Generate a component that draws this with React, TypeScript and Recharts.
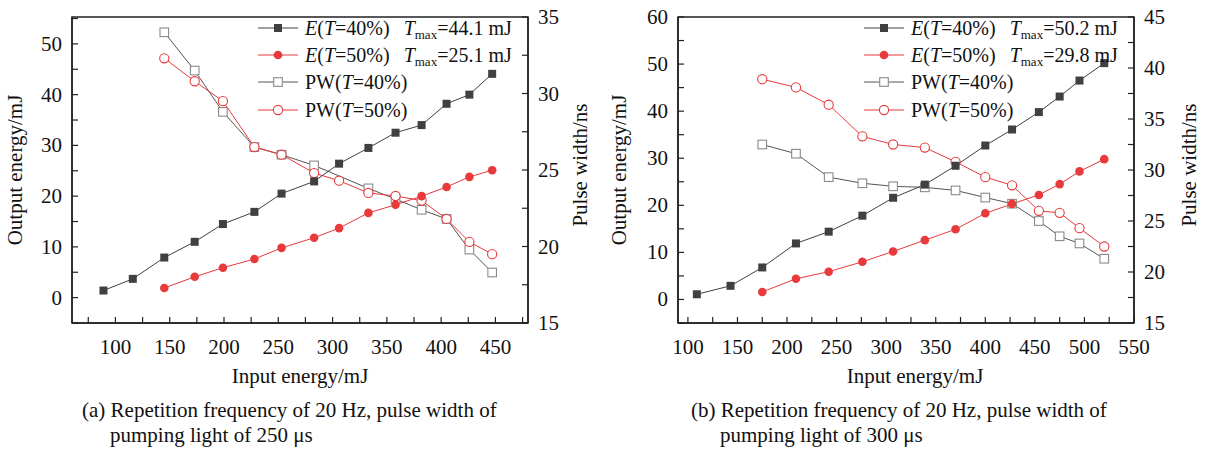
import React from 'react';
import { ComposedChart, Line, XAxis, YAxis, ReferenceArea, Legend, Label } from 'recharts';

const FONT = '"Liberation Serif", "Times New Roman", serif';
const DARK = '#404040';
const RED = '#e8393b';
const GREY = '#8a8a8a';

// (a) 20 Hz, 250 µs pump
const inputA = [89, 116, 145, 173, 199, 228, 253, 283, 306, 333, 358, 382, 405, 426, 447];
const energy40A = [1.4, 3.7, 7.9, 11.0, 14.5, 16.9, 20.5, 22.9, 26.4, 29.5, 32.5, 34.0, 38.2, 40.0, 44.1];
const energy50A = [null, null, 1.9, 4.1, 5.9, 7.6, 9.8, 11.8, 13.7, 16.7, 18.3, 20.0, 21.8, 23.8, 25.1];
const pulse40A = [null, null, 34.0, 31.5, 28.8, 26.5, 26.0, 25.3, null, 23.8, 23.1, 22.4, 21.8, 19.8, 18.3];
const pulse50A = [null, null, 32.3, 30.8, 29.5, 26.5, 26.0, 24.8, 24.3, 23.5, 23.3, 23.0, 21.8, 20.3, 19.5];

// (b) 20 Hz, 300 µs pump
const inputB = [109, 143, 175, 209, 242, 276, 307, 339, 370, 400, 427, 454, 475, 495, 520];
const energy40B = [1.1, 2.9, 6.8, 11.9, 14.4, 17.8, 21.6, 24.4, 28.4, 32.7, 36.1, 39.8, 43.1, 46.5, 50.2];
const energy50B = [null, null, 1.6, 4.4, 5.9, 8.0, 10.2, 12.6, 14.9, 18.3, 20.3, 22.2, 24.5, 27.2, 29.8];
const pulse40B = [null, null, 32.5, 31.6, 29.3, 28.7, 28.4, 28.3, 28.0, 27.3, 26.7, 25.0, 23.5, 22.8, 21.3];
const pulse50B = [null, null, 38.9, 38.1, 36.4, 33.3, 32.5, 32.2, 30.8, 29.3, 28.5, 26.0, 25.8, 24.3, 22.5];

// axis ticks (minor + major) and labelled values
const xTicksA = [75, 100, 125, 150, 175, 200, 225, 250, 275, 300, 325, 350, 375, 400, 425, 450, 475];
const xLabelsA = [100, 150, 200, 250, 300, 350, 400, 450];
const yLeftTicksA = [-5, 0, 5, 10, 15, 20, 25, 30, 35, 40, 45, 50, 55];
const yLeftLabelsA = [0, 10, 20, 30, 40, 50];
const yRightTicksA = [15, 17.5, 20, 22.5, 25, 27.5, 30, 32.5, 35];
const yRightLabelsA = [15, 20, 25, 30, 35];

const xTicksB = [100, 125, 150, 175, 200, 225, 250, 275, 300, 325, 350, 375, 400, 425, 450, 475, 500, 525, 550];
const xLabelsB = [100, 150, 200, 250, 300, 350, 400, 450, 500, 550];
const yLeftTicksB = [-5, 0, 5, 10, 15, 20, 25, 30, 35, 40, 45, 50, 55, 60];
const yLeftLabelsB = [0, 10, 20, 30, 40, 50, 60];
const yRightTicksB = [15, 17.5, 20, 22.5, 25, 27.5, 30, 32.5, 35, 37.5, 40, 42.5, 45];
const yRightLabelsB = [15, 20, 25, 30, 35, 40, 45];

type Kind = 'e40' | 'e50' | 'pw40' | 'pw50';

const Marker = ({ kind, cx, cy }: { kind: Kind; cx: number; cy: number }) => {
  if (kind === 'e40') return <rect x={cx - 4} y={cy - 4} width={8} height={8} fill={DARK} />;
  if (kind === 'e50') return <circle cx={cx} cy={cy} r={4.3} fill={RED} />;
  if (kind === 'pw40')
    return <rect x={cx - 4.3} y={cy - 4.3} width={8.6} height={8.6} fill="#fff" stroke={GREY} strokeWidth={1.1} />;
  return <circle cx={cx} cy={cy} r={4.6} fill="#fff" stroke={RED} strokeWidth={1.1} />;
};

const dotFor = (kind: Kind) => (props: any) => {
  const { cx, cy, index, value } = props;
  if (cx == null || cy == null || value == null) return <g key={index} />;
  return (
    <g key={index}>
      <Marker kind={kind} cx={cx} cy={cy} />
    </g>
  );
};

const makeTick = (labels: number[], anchor: 'start' | 'middle' | 'end', dy: number) => (props: any) => {
  const { x, y, payload } = props;
  if (!labels.includes(payload.value)) return <g />;
  return (
    <text x={x} y={y} dy={dy} textAnchor={anchor} fontSize={21} fontFamily={FONT} fill="#111">
      {payload.value}
    </text>
  );
};

const Title = ({ px, py, rotate, text }: any) => (
  <text
    x={px}
    y={py}
    textAnchor="middle"
    fontSize={21}
    fontFamily={FONT}
    fill="#111"
    transform={rotate ? `rotate(-90, ${px}, ${py})` : undefined}
  >
    {text}
  </text>
);

const lineColor: Record<Kind, string> = { e40: DARK, e50: RED, pw40: '#555', pw50: RED };

const LegendRow = ({ kind, children }: { kind: Kind; children: React.ReactNode }) => (
  <div style={{ display: 'flex', alignItems: 'center', height: 27.3 }}>
    <svg width={44} height={20} style={{ flex: 'none' }}>
      <line x1={2} x2={42} y1={10} y2={10} stroke={lineColor[kind]} strokeWidth={1} />
      <Marker kind={kind} cx={22} cy={10} />
    </svg>
    <span style={{ marginLeft: 5, fontSize: 20, fontFamily: FONT, color: '#111', whiteSpace: 'nowrap', lineHeight: '24px' }}>
      {children}
    </span>
  </div>
);

const Tmax = ({ value }: { value: string }) => (
  <span style={{ marginLeft: 14 }}>
    <i>T</i>
    <sub style={{ fontSize: 13, lineHeight: 0, verticalAlign: '-4px' }}>max</sub>={value} mJ
  </span>
);

const PanelLegend = ({ t40, t50 }: { t40: string; t50: string }) => (
  <div>
    <LegendRow kind="e40">
      <i>E</i>(<i>T</i>=40%)
      <Tmax value={t40} />
    </LegendRow>
    <LegendRow kind="e50">
      <i>E</i>(<i>T</i>=50%)
      <Tmax value={t50} />
    </LegendRow>
    <LegendRow kind="pw40">
      PW(<i>T</i>=40%)
    </LegendRow>
    <LegendRow kind="pw50">
      PW(<i>T</i>=50%)
    </LegendRow>
  </div>
);

interface PanelProps {
  input: number[];
  e40: (number | null)[];
  e50: (number | null)[];
  pw40: (number | null)[];
  pw50: (number | null)[];
  xDomain: [number, number];
  xTicks: number[];
  xLabels: number[];
  yLeftDomain: [number, number];
  yLeftTicks: number[];
  yLeftLabels: number[];
  yRightDomain: [number, number];
  yRightTicks: number[];
  yRightLabels: number[];
  t40: string;
  t50: string;
  xTitleX: number;
  leftTitleX: number;
  rightTitleX: number;
}

const Panel = (p: PanelProps) => {
  const rows = p.input.map((x, i) => ({ x, e40: p.e40[i], e50: p.e50[i], pw40: p.pw40[i], pw50: p.pw50[i] }));
  const axisLine = { stroke: '#222', strokeWidth: 1.5 };
  const tickLine = { stroke: '#222', strokeWidth: 1.2 };
  return (
    <ComposedChart width={600} height={400} data={rows} margin={{ top: 17, right: 32, bottom: 47, left: 32 }}>
      <XAxis
        type="number"
        dataKey="x"
        domain={p.xDomain}
        ticks={p.xTicks}
        interval={0}
        allowDataOverflow
        height={30}
        tickSize={-6}
        tickMargin={12}
        axisLine={axisLine}
        tickLine={tickLine}
        tick={makeTick(p.xLabels, 'middle', 25)}
        label={<Label content={<Title px={p.xTitleX} py={383} text="Input energy/mJ" />} />}
      />
      <YAxis
        yAxisId="left"
        type="number"
        domain={p.yLeftDomain}
        ticks={p.yLeftTicks}
        interval={0}
        allowDataOverflow
        width={40}
        tickSize={-6}
        tickMargin={16}
        axisLine={axisLine}
        tickLine={tickLine}
        tick={makeTick(p.yLeftLabels, 'end', 7)}
        label={<Label content={<Title px={p.leftTitleX} py={170} rotate text="Output energy/mJ" />} />}
      />
      <YAxis
        yAxisId="right"
        orientation="right"
        type="number"
        domain={p.yRightDomain}
        ticks={p.yRightTicks}
        interval={0}
        allowDataOverflow
        width={40}
        tickSize={-6}
        tickMargin={16}
        axisLine={axisLine}
        tickLine={tickLine}
        tick={makeTick(p.yRightLabels, 'start', 7)}
        label={<Label content={<Title px={p.rightTitleX} py={165} rotate text="Pulse width/ns" />} />}
      />
      <ReferenceArea
        yAxisId="left"
        x1={p.xDomain[0]}
        x2={p.xDomain[1]}
        y1={p.yLeftDomain[0]}
        y2={p.yLeftDomain[1]}
        fill="none"
        stroke="#222"
        strokeWidth={1.5}
        ifOverflow="visible"
      />
      <Legend
        layout="vertical"
        align="center"
        verticalAlign="middle"
        wrapperStyle={{ top: 14, left: 256 }}
        content={() => <PanelLegend t40={p.t40} t50={p.t50} />}
      />
      <Line yAxisId="right" dataKey="pw40" stroke="#555" strokeWidth={1} connectNulls dot={dotFor('pw40')} isAnimationActive={false} />
      <Line yAxisId="right" dataKey="pw50" stroke={RED} strokeWidth={1} connectNulls dot={dotFor('pw50')} isAnimationActive={false} />
      <Line yAxisId="left" dataKey="e40" stroke={DARK} strokeWidth={1} connectNulls dot={dotFor('e40')} isAnimationActive={false} />
      <Line yAxisId="left" dataKey="e50" stroke={RED} strokeWidth={1} connectNulls dot={dotFor('e50')} isAnimationActive={false} />
    </ComposedChart>
  );
};

const captionStyle: React.CSSProperties = {
  position: 'absolute',
  top: 398,
  fontSize: 21,
  lineHeight: '25px',
  fontFamily: FONT,
  color: '#111',
  whiteSpace: 'nowrap',
};

export default function App() {
  return (
    <div style={{ position: 'absolute', left: 0, top: 0, width: 1210, height: 450, background: '#fff', overflow: 'hidden' }}>
      <div style={{ position: 'absolute', left: 0, top: 0 }}>
        <Panel
          input={inputA}
          e40={energy40A}
          e50={energy50A}
          pw40={pulse40A}
          pw50={pulse50A}
          xDomain={[60, 480]}
          xTicks={xTicksA}
          xLabels={xLabelsA}
          yLeftDomain={[-5, 55.3]}
          yLeftTicks={yLeftTicksA}
          yLeftLabels={yLeftLabelsA}
          yRightDomain={[15, 35]}
          yRightTicks={yRightTicksA}
          yRightLabels={yRightLabelsA}
          t40="44.1"
          t50="25.1"
          xTitleX={300}
          leftTitleX={22}
          rightTitleX={587}
        />
      </div>
      <div style={{ position: 'absolute', left: 606, top: 0 }}>
        <Panel
          input={inputB}
          e40={energy40B}
          e50={energy50B}
          pw40={pulse40B}
          pw50={pulse50B}
          xDomain={[90, 550]}
          xTicks={xTicksB}
          xLabels={xLabelsB}
          yLeftDomain={[-5, 60]}
          yLeftTicks={yLeftTicksB}
          yLeftLabels={yLeftLabelsB}
          yRightDomain={[15, 45]}
          yRightTicks={yRightTicksB}
          yRightLabels={yRightLabelsB}
          t40="50.2"
          t50="29.8"
          xTitleX={309}
          leftTitleX={20}
          rightTitleX={590}
        />
      </div>
      <div style={{ ...captionStyle, left: 82 }}>
        (a) Repetition frequency of 20 Hz, pulse width of
        <br />
        <span style={{ paddingLeft: 28 }}>pumping light of 250 μs</span>
      </div>
      <div style={{ ...captionStyle, left: 691 }}>
        (b) Repetition frequency of 20 Hz, pulse width of
        <br />
        <span style={{ paddingLeft: 29 }}>pumping light of 300 μs</span>
      </div>
    </div>
  );
}
